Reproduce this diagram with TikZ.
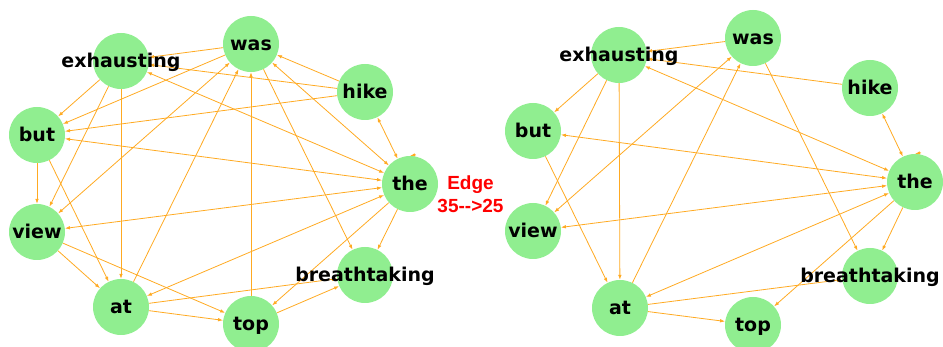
\documentclass[tikz,border=0pt]{standalone}
\usepackage{fontspec}
\setmainfont{DejaVu Sans}
\newfontfamily\notefont{Liberation Sans}
\usetikzlibrary{arrows.meta,calc}
\definecolor{nodegreen}{HTML}{90EE90}
\definecolor{edgeorange}{HTML}{FFAA22}
\pgfdeclarelayer{edges}
\pgfsetlayers{edges,main}
\begin{document}
\begin{tikzpicture}[x=1pt,y=-1pt,
  vertex/.style={circle,fill=nodegreen,minimum size=56pt,inner sep=0pt},
  word/.style={anchor=base,font=\fontsize{19}{22}\selectfont\bfseries,text=black,inner sep=0pt},
  tip/.style={Latex[length=5pt,width=3.6pt]},
  edge/.style={draw=edgeorange,line width=0.8pt,-{Latex[length=5pt,width=3.6pt]}},
  both/.style={draw=edgeorange,line width=0.8pt,{Latex[length=5pt,width=3.6pt]}-{Latex[length=5pt,width=3.6pt]}},
  note/.style={font=\notefont\fontsize{19}{23}\selectfont\bfseries,text=red,align=center,inner sep=0pt}]
\useasboundingbox (0,0) rectangle (943,347);

% ---- left graph: vertices ----
\foreach \n/\x/\y in {was/251/44, exhausting/121/61, hike/365/92, but/37/135,
    the/410/184, view/37/232, breathtaking/365/275, at/121/307, top/251/324}{
  \node[vertex] (L\n) at (\x,\y) {};
}
% ---- right graph: vertices ----
\foreach \n/\x/\y in {was/753/38, exhausting/619/55, hike/870/88, but/533/131,
    the/915/182, view/533/231, breathtaking/870/276, at/620/308, top/753/325}{
  \node[vertex] (R\n) at (\x,\y) {};
}

\begin{pgfonlayer}{edges}
  % left graph, one-way edges
  \foreach \a/\b in {was/exhausting, hike/exhausting, hike/was, hike/but,
      was/but, exhausting/but, exhausting/view, exhausting/at, the/breathtaking,
      the/top, was/breathtaking, at/was, top/was, but/view, but/at, view/at,
      view/top, at/top, at/breathtaking, top/breathtaking}
    \draw[edge] (L\a) -- (L\b);
  % left graph, edges in both directions
  \foreach \a/\b in {exhausting/the, but/the, was/the, hike/the, view/the,
      at/the, view/was}
    \draw[both] (L\a) -- (L\b);
  \draw[edge] ($(Lthe.north)+(6,-1)$) -- (Lthe.north);

  % right graph, one-way edges
  \foreach \a/\b in {was/exhausting, hike/exhausting, exhausting/but,
      exhausting/view, exhausting/at, at/was, but/at, at/top, at/breathtaking,
      the/breathtaking, the/top, was/breathtaking}
    \draw[edge] (R\a) -- (R\b);
  % right graph, edges in both directions
  \foreach \a/\b in {exhausting/the, but/the, view/the, view/was, at/the, hike/the}
    \draw[both] (R\a) -- (R\b);
  \draw[edge] ($(Rthe.north)+(6,-1)$) -- (Rthe.north);
\end{pgfonlayer}

% ---- labels ----
\foreach \n/\x/\y in {was/251/44, exhausting/121/61, hike/365/92, but/37/135,
    the/410/184, view/37/232, breathtaking/365/275, at/121/307, top/251/324}{
  \node[word] (Lw\n) at (\x,\y+6.5) {\n};
}
\foreach \n/\x/\y in {was/753/38, exhausting/619/55, hike/870/88, but/533/131,
    the/915/182, view/533/231, breathtaking/870/276, at/620/308, top/753/325}{
  \node[word] (Rw\n) at (\x,\y+6.5) {\n};
}

\node[note] (caption) at (470.5,194) {Edge\\35-{}->25};
\end{tikzpicture}
\end{document}
